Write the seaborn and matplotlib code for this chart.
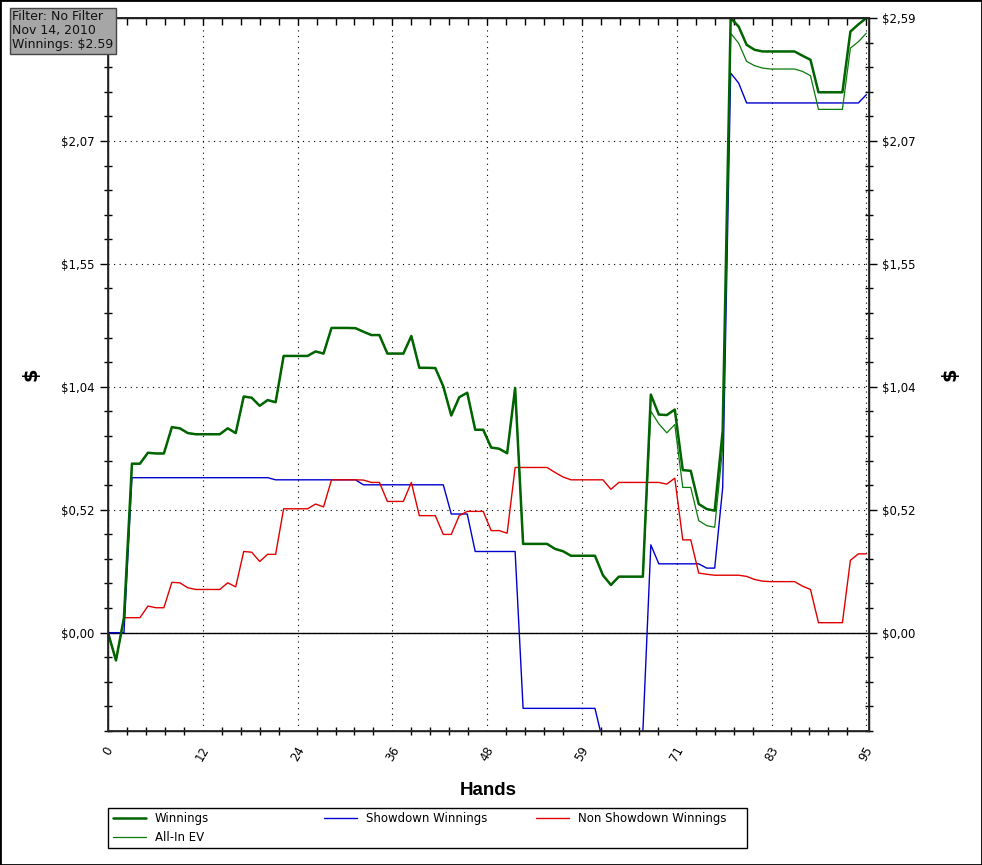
import numpy as np
import pandas as pd
import matplotlib
matplotlib.use('Agg')
import matplotlib.pyplot as plt
import seaborn as sns
from matplotlib.lines import Line2D
from matplotlib.patches import Rectangle

# values, one per hand (0..95)
winnings = [
    0.0, -0.117, 0.063, 0.712, 0.712, 0.758, 0.755, 0.755, 0.866, 0.861,
    0.841, 0.836, 0.836, 0.836, 0.836, 0.861, 0.841, 0.995, 0.990, 0.956,
    0.980, 0.971, 1.166, 1.166, 1.166, 1.166, 1.185, 1.176, 1.284, 1.284,
    1.284, 1.283, 1.268, 1.254, 1.254, 1.176, 1.176, 1.176, 1.250, 1.116,
    1.116, 1.115, 1.038, 0.915, 0.992, 1.011, 0.855, 0.855, 0.780, 0.775,
    0.756, 1.031, 0.374, 0.374, 0.374, 0.374, 0.353, 0.343, 0.324, 0.324,
    0.324, 0.324, 0.242, 0.201, 0.236, 0.236, 0.236, 0.236, 1.003, 0.919,
    0.917, 0.940, 0.685, 0.682, 0.542, 0.521, 0.514, 0.850, 2.590, 2.554,
    2.477, 2.456, 2.449, 2.449, 2.449, 2.449, 2.449, 2.431, 2.414, 2.277,
    2.277, 2.277, 2.277, 2.533, 2.563, 2.590,
]
all_in_ev = winnings[:68] + [
    0.933, 0.880, 0.842, 0.877, 0.612, 0.612, 0.472, 0.451, 0.444, 0.780,
    2.526, 2.484, 2.407, 2.389, 2.379, 2.375, 2.375, 2.375, 2.375, 2.365,
    2.347, 2.205, 2.205, 2.205, 2.205, 2.463, 2.490, 2.526,
]
showdown = [
    0.0, 0.0, 0.0, 0.653, 0.653, 0.653, 0.653, 0.653, 0.653, 0.653,
    0.653, 0.653, 0.653, 0.653, 0.653, 0.653, 0.653, 0.653, 0.653, 0.653,
    0.653, 0.644, 0.644, 0.644, 0.644, 0.644, 0.644, 0.644, 0.644, 0.644,
    0.644, 0.644, 0.623, 0.623, 0.623, 0.623, 0.623, 0.623, 0.623, 0.623,
    0.623, 0.623, 0.623, 0.500, 0.500, 0.500, 0.342, 0.342, 0.342, 0.342,
    0.342, 0.342, -0.319, -0.319, -0.319, -0.319, -0.319, -0.319, -0.319, -0.319,
    -0.319, -0.319, -0.460, -0.470, -0.470, -0.470, -0.470, -0.420, 0.370, 0.290,
    0.290, 0.290, 0.290, 0.290, 0.290, 0.272, 0.272, 0.610, 2.358, 2.316,
    2.232, 2.232, 2.232, 2.232, 2.232, 2.232, 2.232, 2.232, 2.232, 2.232,
    2.232, 2.232, 2.232, 2.232, 2.232, 2.267,
]
non_showdown = [
    0.0, -0.117, 0.063, 0.063, 0.063, 0.112, 0.105, 0.105, 0.212, 0.210,
    0.189, 0.182, 0.182, 0.182, 0.182, 0.210, 0.193, 0.342, 0.339, 0.300,
    0.330, 0.330, 0.522, 0.522, 0.522, 0.522, 0.542, 0.530, 0.644, 0.644,
    0.644, 0.644, 0.643, 0.633, 0.633, 0.553, 0.553, 0.553, 0.633, 0.493,
    0.493, 0.493, 0.414, 0.414, 0.493, 0.511, 0.511, 0.511, 0.430, 0.430,
    0.419, 0.696, 0.696, 0.696, 0.696, 0.696, 0.675, 0.656, 0.644, 0.644,
    0.644, 0.644, 0.644, 0.604, 0.633, 0.633, 0.633, 0.633, 0.633, 0.633,
    0.626, 0.651, 0.391, 0.391, 0.251, 0.246, 0.242, 0.242, 0.242, 0.242,
    0.237, 0.224, 0.217, 0.215, 0.215, 0.215, 0.215, 0.196, 0.182, 0.042,
    0.042, 0.042, 0.042, 0.305, 0.332, 0.332,
]
hands = list(range(len(winnings)))

x_tick_labels = ['0', '12', '24', '36', '48', '59', '71', '83', '95']
y_tick_labels = ['$0,00', '$0,52', '$1,04', '$1,55', '$2,07', '$2,59']
info_lines = ['Filter: No Filter', 'Nov 14, 2010', 'Winnings: $2.59']

sns.set_theme(style='white')
plt.rcParams['font.family'] = ['DejaVu Sans']
plt.rcParams['text.color'] = 'black'
plt.rcParams['axes.labelcolor'] = 'black'
plt.rcParams['xtick.color'] = 'black'
plt.rcParams['ytick.color'] = 'black'

df = pd.DataFrame({'Hands': hands, 'Winnings': winnings, 'All-In EV': all_in_ev,
                   'Showdown Winnings': showdown, 'Non Showdown Winnings': non_showdown})

fig = plt.figure(figsize=(9.82, 8.65), dpi=100)
fig.patch.set_facecolor('white')
ax = fig.add_axes([108 / 982, 1 - 731 / 865, 761 / 982, 713 / 865])

green = '#006400'
ev_green = '#0a7a0a'
blue = '#0000d0'
red = '#e00000'
sns.lineplot(data=df, x='Hands', y='Showdown Winnings', ax=ax, color=blue, linewidth=1.0)
sns.lineplot(data=df, x='Hands', y='Non Showdown Winnings', ax=ax, color=red, linewidth=1.0)
sns.lineplot(data=df, x='Hands', y='All-In EV', ax=ax, color=ev_green, linewidth=0.9)
sns.lineplot(data=df, x='Hands', y='Winnings', ax=ax, color=green, linewidth=1.8)

ax.axhline(0, color='black', linewidth=1.0, zorder=1)

ymax = 2.59
ymin = -0.398
ax.set_xlim(0, 95.33)
ax.set_ylim(ymin, ymax)

xstep = 95 / 8
ystep = ymax / 5
major_x = [i * xstep for i in range(9)]
minor_x = np.arange(0, 95.01, xstep / 5)
major_y = [i * ystep for i in range(6)]
minor_y = np.arange(-4 * ystep / 5, ymax + 0.001, ystep / 5)

ax.set_xticks(major_x)
ax.set_xticklabels(x_tick_labels, rotation=60, ha='center', fontsize=8.5)
ax.set_xticks(minor_x, minor=True)
ax.set_yticks(major_y)
# the top-left label is hidden under the info box in the original
ax.set_yticklabels(y_tick_labels[:-1] + [''], fontsize=8.5)
ax.set_yticks(minor_y, minor=True)

ax.grid(True, which='major', color='black', linestyle=(0, (1, 4)), linewidth=0.8)
ax.tick_params(which='major', direction='out', length=6, width=1, color='black',
               labelcolor='black', top=False, right=False)
ax.tick_params(which='minor', direction='inout', length=6, width=1, color='black',
               bottom=True, left=True, top=False, right=False)
for sp in ax.spines.values():
    sp.set_color('black')
    sp.set_linewidth(1.0)

top = ax.secondary_xaxis('top')
top.set_xticks(major_x)
top.set_xticklabels([])
top.set_xticks(minor_x, minor=True)
top.tick_params(which='both', direction='in', length=5, width=1, color='black')

ax2 = ax.twinx()
ax2.set_ylim(ymin, ymax)
ax2.set_yticks(major_y)
ax2.set_yticklabels(y_tick_labels, fontsize=8.5)
ax2.set_yticks(minor_y, minor=True)
ax2.tick_params(which='major', direction='out', length=6, width=1, color='black', labelcolor='black')
ax2.tick_params(which='minor', direction='inout', length=6, width=1, color='black')
ax2.grid(False)

ax.set_xlabel('Hands', fontsize=13.5, fontweight='bold', family='Liberation Sans',
              labelpad=13, color='black')
ax.set_ylabel('$', fontsize=14, fontweight='bold', labelpad=15, color='black')
ax2.set_ylabel('$', fontsize=14, fontweight='bold', rotation=90, labelpad=18, color='black')

# legend: three columns inside one frame, as in the original
handles = [Line2D([], [], color=green, linewidth=1.8),
           Line2D([], [], color=ev_green, linewidth=0.9),
           Line2D([], [], color=blue, linewidth=1.0),
           Line2D([], [], color=red, linewidth=1.0)]
labels = ['Winnings', 'All-In EV', 'Showdown Winnings', 'Non Showdown Winnings']
groups = [(0, 2, 113), (2, 3, 324), (3, 4, 536)]
for a, b, px in groups:
    leg = fig.legend(handles[a:b], labels[a:b], loc='upper left',
                     bbox_to_anchor=(px / 982, 1 - 812 / 865), bbox_transform=fig.transFigure,
                     frameon=False, fontsize=8.5, handlelength=2.8, handletextpad=0.75,
                     borderpad=0, borderaxespad=0, labelspacing=0.5, labelcolor='black')
fig.patches.append(Rectangle((108 / 982, 1 - 848 / 865), 639 / 982, 40 / 865,
                             transform=fig.transFigure, fill=False,
                             edgecolor='black', linewidth=1.0))

fig.text(12 / 982, 1 - 10 / 865, '\n'.join(info_lines), fontsize=9, va='top', ha='left',
         color='#111111', linespacing=1.1, zorder=10,
         bbox=dict(boxstyle='square,pad=0.2', facecolor='#a6a6a6', edgecolor='#444444', linewidth=1))

fig.patches.append(Rectangle((0, 0), 1, 1, transform=fig.transFigure, fill=False,
                             edgecolor='black', linewidth=2))

fig.savefig('out.png', dpi=100)
